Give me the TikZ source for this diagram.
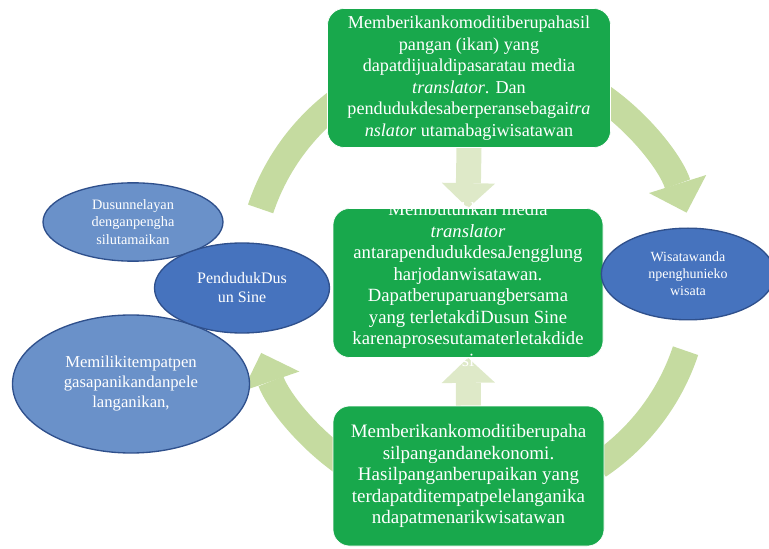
\documentclass[tikz,border=0pt]{standalone}
\usepackage{fontspec}
\setmainfont{Liberation Serif}
\usetikzlibrary{shapes.geometric,arrows.meta,backgrounds}
\definecolor{boxgreen}{RGB}{24,168,76}
\definecolor{arcgreen}{RGB}{197,219,160}
\definecolor{arrgreen}{RGB}{222,233,200}
\definecolor{bluelight}{RGB}{106,145,201}
\definecolor{bluedark}{RGB}{70,115,190}
\definecolor{blueline}{RGB}{47,80,140}
\tikzset{
  boxG/.style={ draw=white, fill=boxgreen, rounded corners=10pt, text=white, align=center, inner sep=0pt }
}
\tikzset{
  ellL/.style={ draw=blueline, ellipse, fill=bluelight, text=white, align=center, inner sep=0pt, line width=0.8pt }
}
\tikzset{
  ellD/.style={ ellL, fill=bluedark }
}
\tikzset{
  arcG/.style={ draw=arcgreen, line width=16pt }
}
\tikzset{
  arrV/.style={ draw=arrgreen, line width=15pt, -{Triangle[width=32pt,length=15pt,line width=0pt]} }
}

\begin{document}
\begin{tikzpicture}[x=0.6pt, y=-0.6pt]
      \useasboundingbox (0,0) rectangle (769,549);
      \coordinate (c) at (473,280);

      % circular flow
      \draw[arcG] (c) ++(-161.5:224) arc[start angle=-161.5, end angle=-124, radius=224];
      \draw[arcG, -{Triangle[width=36pt,length=18pt,line width=0pt]}] (c) ++(-56:224) arc[start angle=-56, end angle=-17.5, radius=224];
      \draw[arcG] (c) ++(18.4:224) arc[start angle=18.4, end angle=56, radius=224];
      \draw[arcG, -{Triangle[width=36pt,length=18pt,line width=0pt]}] (c) ++(124:224) arc[start angle=124, end angle=161, radius=224];

      \node[boxG, minimum width=169.8pt, minimum height=83.4pt, font=\fontsize{10.9}{12.9}\selectfont] (top) at (469,78)
        {Memberikankomoditiberupahasil\\pangan (ikan) yang\\dapatdijualdipasaratau media\\\textit{translator}. Dan\\pendudukdesaberperansebagai\textit{tra}\\\textit{nslator} utamabagiwisatawan};
      \node[boxG, minimum width=162pt, minimum height=89.4pt] (mid) at (468,283) {};
      \node[boxG, minimum width=162.6pt, minimum height=84pt, font=\fontsize{11.4}{12.9}\selectfont] (bot) at (468.5,476)
        {Memberikankomoditiberupaha\\silpangandanekonomi.\\Hasilpanganberupaikan yang\\terdapatditempatpelelanganika\\ndapatmenarikwisatawan};

      \begin{scope}[on background layer]
        \draw[arrV] (top.south) -- (mid.north);
        \draw[arrV] (bot.north) -- (mid.south);
      \end{scope}

      \node[text=white, align=center, font=\fontsize{11.2}{12.9}\selectfont] (midtxt) at (468,284.5)
        {Membutuhkan media\\\textit{translator}\\antarapendudukdesaJengglung\\harjodanwisatawan.\\Dapatberuparuangbersama\\yang terletakdiDusun Sine\\karenaprosesutamaterletakdide\\si};

      \node[ellL, minimum width=108pt, minimum height=47pt, font=\fontsize{8.6}{10.5}\selectfont] (dusun) at (133,222)
        {Dusunnelayan\\denganpengha\\silutamaikan};
      \node[ellL, minimum width=142.2pt, minimum height=82.8pt, font=\fontsize{10}{12}\selectfont] (tempat) at (131,384)
        {Memilikitempatpen\\gasapanikandanpele\\langanikan,};
      \node[ellD, minimum width=105pt, minimum height=54pt, font=\fontsize{9.6}{11.4}\selectfont] (pend) at (242,288)
        {PendudukDus\\un Sine};
      \node[ellD, minimum width=104pt, minimum height=55pt, font=\fontsize{8.4}{10.2}\selectfont] (wisata) at (688,274)
        {Wisatawanda\\npenghunieko\\wisata};
    \end{tikzpicture}
\end{document}
